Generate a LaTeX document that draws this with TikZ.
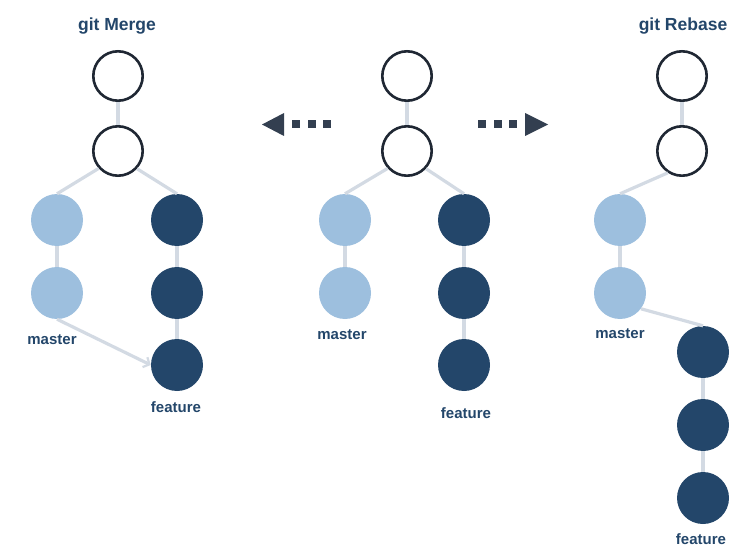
\documentclass[tikz,border=0pt]{standalone}
\usepackage{fontspec}
\setmainfont{Liberation Sans}
\usetikzlibrary{arrows.meta}

\definecolor{navy}{HTML}{23466A}
\definecolor{skyblue}{HTML}{9DBFDE}
\definecolor{inkline}{HTML}{1F2733}
\definecolor{branchline}{HTML}{D3DAE3}
\definecolor{pointer}{HTML}{333F50}

\begin{document}
\begin{tikzpicture}[x=1pt,y=-1pt,
    oldcommit/.style={circle,draw=inkline,line width=2.6pt,fill=white,minimum size=49.4pt,inner sep=0pt},
    mastercommit/.style={circle,fill=skyblue,minimum size=52pt,inner sep=0pt},
    featurecommit/.style={circle,fill=navy,minimum size=52pt,inner sep=0pt},
    branch/.style={draw=branchline,line width=3.2pt},
    title/.style={text=navy,font=\fontsize{17.5}{20}\selectfont\bfseries},
    label/.style={text=navy,font=\fontsize{15}{18}\selectfont\bfseries}]

      \useasboundingbox (0,0) rectangle (750,559);

      % git merge
      \node[title] (mtitle) at (117,26) {git Merge};
      \node[oldcommit] (m0) at (118,76) {};
      \node[oldcommit] (m1) at (118,151) {};
      \node[mastercommit] (ma1) at (57,220) {};
      \node[mastercommit] (ma2) at (57,293) {};
      \node[featurecommit] (mf1) at (177,220) {};
      \node[featurecommit] (mf2) at (177,293) {};
      \node[featurecommit] (mf3) at (177,365) {};
      \node[label] (mmaster) at (52,340) {master};
      \node[label] (mfeature) at (176,407) {feature};
      \draw[branch] (m0) -- (m1);
      \draw[branch] (m1.222) -- (ma1.north);
      \draw[branch] (m1.-43) -- (mf1.north);
      \draw[branch] (ma1) -- (ma2);
      \draw[branch] (mf1) -- (mf2);
      \draw[branch] (mf2) -- (mf3);
      \draw[branch,-{Straight Barb[length=5pt,width=11pt,line width=2.2pt]}] (ma2.south) -- (mf3.west);

      % before: two branches
      \node[oldcommit] (c0) at (407,76) {};
      \node[oldcommit] (c1) at (407,151) {};
      \node[mastercommit] (ca1) at (345,220) {};
      \node[mastercommit] (ca2) at (345,293) {};
      \node[featurecommit] (cf1) at (464,220) {};
      \node[featurecommit] (cf2) at (464,293) {};
      \node[featurecommit] (cf3) at (464,365) {};
      \node[label] (cmaster) at (342,335) {master};
      \node[label] (cfeature) at (466,413) {feature};
      \draw[branch] (c0) -- (c1);
      \draw[branch] (c1.222) -- (ca1.north);
      \draw[branch] (c1.-43) -- (cf1.north);
      \draw[branch] (ca1) -- (ca2);
      \draw[branch] (cf1) -- (cf2);
      \draw[branch] (cf2) -- (cf3);

      % dotted pointers
      \fill[pointer] (262,124.5) -- (284,113) -- (284,136) -- cycle;
      \foreach \x in {292,307.5,323}
        \fill[pointer] (\x,120.5) rectangle ++(8,8);
      \fill[pointer] (548,124.5) -- (525,113) -- (525,136) -- cycle;
      \foreach \x in {478,493.5,509}
        \fill[pointer] (\x,120.5) rectangle ++(8,8);

      % git rebase
      \node[title] (rtitle) at (683,26) {git Rebase};
      \node[oldcommit] (r0) at (682,76) {};
      \node[oldcommit] (r1) at (682,151) {};
      \node[mastercommit] (ra1) at (620,220) {};
      \node[mastercommit] (ra2) at (620,293) {};
      \node[featurecommit] (rf1) at (703,352) {};
      \node[featurecommit] (rf2) at (703,425) {};
      \node[featurecommit] (rf3) at (703,498) {};
      \node[label] (rmaster) at (620,334) {master};
      \node[label] (rfeature) at (701,539) {feature};
      \draw[branch] (r0) -- (r1);
      \draw[branch] (r1.237) -- (ra1.north);
      \draw[branch] (ra1) -- (ra2);
      \draw[branch] (ra2.-37) -- (rf1.north);
      \draw[branch] (rf1) -- (rf2);
      \draw[branch] (rf2) -- (rf3);

\end{tikzpicture}
\end{document}
